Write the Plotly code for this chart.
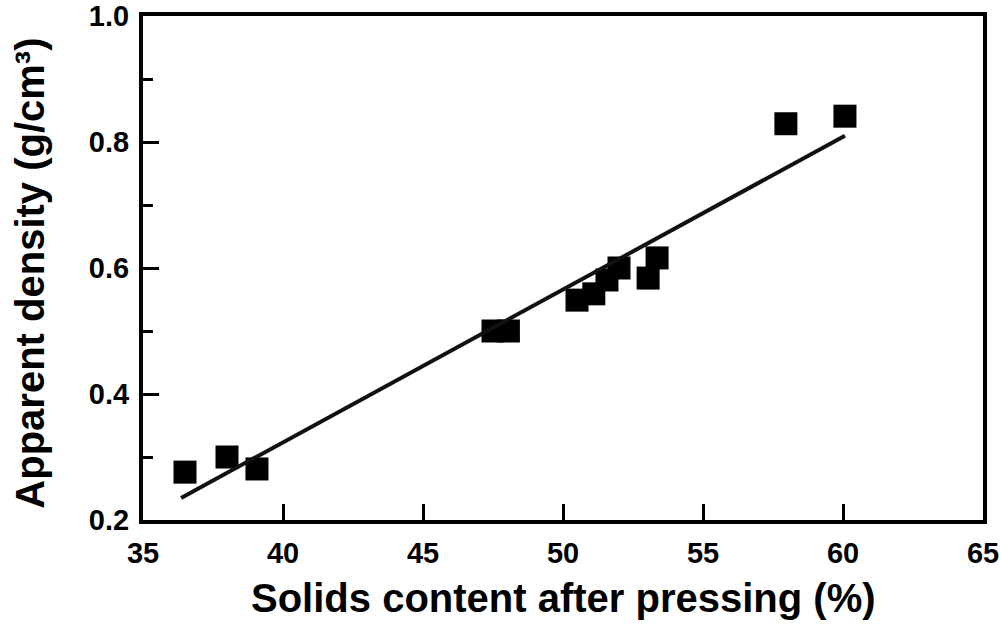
import plotly.graph_objects as go

solids = [36.5, 38.0, 39.07, 47.5, 48.05, 50.5, 51.1, 51.57, 52.0, 53.04, 53.36, 57.96, 60.07]
density = [0.276, 0.300, 0.281, 0.500, 0.500, 0.549, 0.559, 0.581, 0.600, 0.584, 0.616, 0.829, 0.841]

fit_x = [36.36, 60.07]
fit_y = [0.235, 0.810]

x_ticks = [35, 40, 45, 50, 55, 60, 65]
y_ticks = [0.2, 0.4, 0.6, 0.8, 1.0]

x_title = "Solids content after pressing (%)"
y_title = "Apparent density (g/cm³)"

fig = go.Figure()
fig.add_trace(go.Scatter(x=solids, y=density, mode="markers",
                         marker=dict(symbol="square", size=23, color="black",
                                     line=dict(width=0)),
                         showlegend=False))
fig.add_trace(go.Scatter(x=fit_x, y=fit_y, mode="lines",
                         line=dict(color="#111111", width=4),
                         showlegend=False))

ff = "Liberation Sans"
tickfont = dict(size=29, family=ff, color="black")
fig.update_layout(
    width=1001, height=625,
    margin=dict(l=143, r=18, t=16, b=105),
    plot_bgcolor="white", paper_bgcolor="white",
    font=dict(family=ff, color="black"),
    xaxis=dict(range=[35, 65], tickvals=x_ticks,
               ticktext=[f"<b>{v}</b>" for v in x_ticks],
               showline=True, linecolor="black", linewidth=4, mirror=True,
               ticks="inside", ticklen=16, tickwidth=3, tickcolor="black",
               showgrid=False, zeroline=False, automargin=False,
               tickfont=tickfont, ticklabelstandoff=4),
    yaxis=dict(range=[0.2, 1.0], tickvals=y_ticks,
               ticktext=[f"<b>{v:.1f}</b>" for v in y_ticks],
               showline=True, linecolor="black", linewidth=4, mirror=True,
               ticks="inside", ticklen=16, tickwidth=3, tickcolor="black",
               minor=dict(ticks="inside", ticklen=10, tickwidth=3, tickcolor="black",
                          tickvals=[0.3, 0.5, 0.7, 0.9], showgrid=False),
               showgrid=False, zeroline=False, automargin=False,
               tickfont=tickfont, ticklabelstandoff=4),
    annotations=[
        dict(text=f"<b>{x_title}</b>", xref="paper", yref="paper",
             x=0.5, y=-0.155, xanchor="center", yanchor="middle", showarrow=False,
             font=dict(size=40, family=ff, color="black")),
        dict(text=f"<b>{y_title}</b>", xref="paper", yref="paper",
             x=-0.135, y=0.49, xanchor="center", yanchor="middle", showarrow=False,
             textangle=-90, font=dict(size=40, family=ff, color="black")),
    ],
)

fig.write_html("out.html")
